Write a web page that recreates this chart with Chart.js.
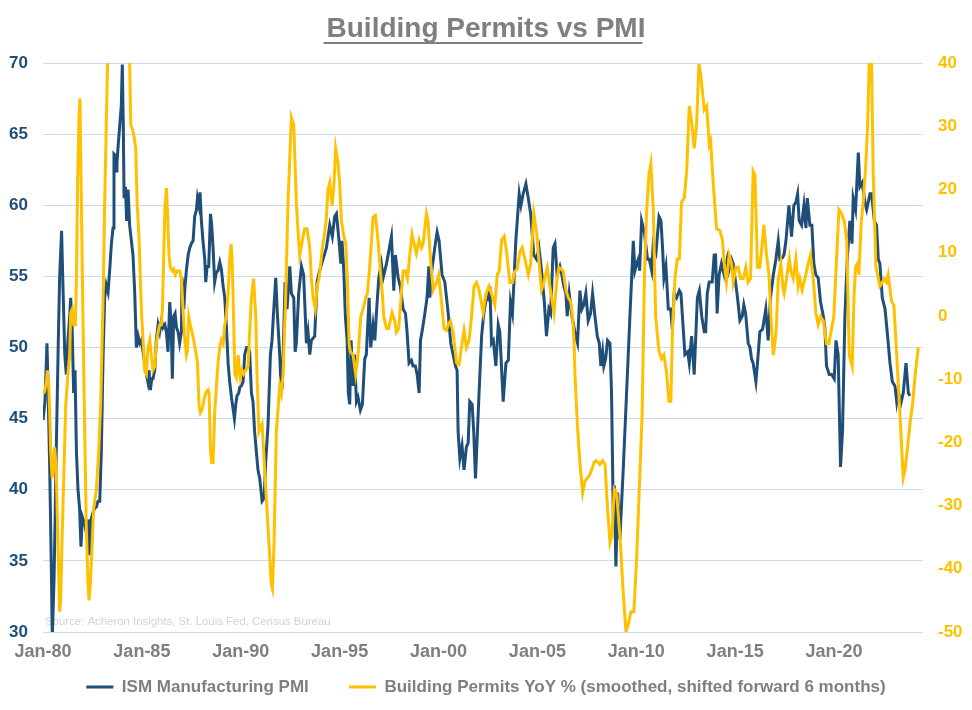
<!DOCTYPE html>
<html>
<head>
<meta charset="utf-8">
<script src="https://cdn.jsdelivr.net/npm/chart.js@4.4.0/dist/chart.umd.min.js"></script>
<style>
  html, body { margin: 0; padding: 0; background: #ffffff; }
  #wrap { width: 972px; height: 710px; position: relative; }
</style>
</head>
<body>
<div id="wrap"><canvas id="lineChart" width="972" height="710"></canvas></div>
<script>
// ISM Manufacturing PMI (decimal year, index value)
const pmiDates = [
  1980.00,1980.10,1980.20,1980.25,1980.34,1980.42,1980.47,1980.56,1980.67,1980.76,1980.84,1980.94,
  1981.01,1981.10,1981.18,1981.26,1981.35,1981.40,1981.47,1981.55,1981.62,1981.69,1981.77,1981.85,1981.92,1981.99,
  1982.11,1982.19,1982.28,1982.36,1982.43,1982.53,1982.61,1982.70,1982.78,1982.87,1982.95,
  1983.04,1983.12,1983.20,1983.29,1983.37,1983.46,1983.54,1983.59,1983.66,1983.71,1983.74,1983.79,1983.88,1983.96,
  1984.01,1984.06,1984.10,1984.17,1984.23,1984.30,1984.38,1984.47,1984.55,1984.64,1984.72,1984.81,1984.89,1984.97,
  1985.06,1985.14,1985.23,1985.30,1985.36,1985.43,1985.50,1985.56,1985.65,1985.73,1985.82,1985.90,1985.99,
  1986.07,1986.16,1986.24,1986.32,1986.41,1986.48,1986.54,1986.61,1986.68,1986.75,1986.83,1986.91,
  1987.00,1987.03,1987.12,1987.18,1987.25,1987.34,1987.42,1987.50,1987.59,1987.67,1987.76,1987.81,1987.88,1987.94,
  1988.01,1988.09,1988.18,1988.23,1988.30,1988.38,1988.47,1988.53,1988.60,1988.68,1988.77,1988.85,1988.94,
  1989.02,1989.11,1989.19,1989.27,1989.36,1989.44,1989.53,1989.61,1989.68,1989.75,1989.81,1989.90,1989.95,
  1990.03,1990.12,1990.20,1990.29,1990.37,1990.45,1990.54,1990.62,1990.70,1990.87,1990.96,
  1991.08,1991.18,1991.26,1991.38,1991.50,1991.58,1991.67,1991.77,1991.85,1991.97,
  1992.05,1992.10,1992.17,1992.24,1992.34,1992.48,1992.56,1992.68,1992.75,1992.81,1992.93,
  1993.07,1993.18,1993.32,1993.40,1993.49,1993.57,1993.74,1993.86,1993.99,
  1994.16,1994.33,1994.50,1994.63,1994.75,1994.84,1994.97,
  1995.06,1995.12,1995.21,1995.29,1995.38,1995.44,1995.51,1995.58,1995.68,1995.75,1995.85,1995.93,
  1996.05,1996.15,1996.27,1996.35,1996.49,1996.57,1996.69,1996.78,1996.86,1996.98,
  1997.11,1997.20,1997.37,1997.62,1997.74,1997.82,1997.96,
  1998.07,1998.21,1998.33,1998.41,1998.51,1998.63,1998.71,1998.83,1998.92,
  1999.02,1999.09,1999.19,1999.31,1999.42,1999.51,1999.56,1999.66,1999.81,1999.93,
  2000.03,2000.18,2000.32,2000.49,2000.62,2000.74,2000.86,2000.94,2000.99,
  2001.08,2001.19,2001.29,2001.41,2001.50,2001.58,2001.70,2001.78,2001.87,2001.97,
  2002.05,2002.18,2002.29,2002.43,2002.51,2002.60,2002.68,2002.77,2002.90,
  2003.02,2003.10,2003.27,2003.41,2003.53,2003.64,2003.74,2003.91,
  2004.08,2004.17,2004.28,2004.42,2004.54,2004.66,2004.82,2004.96,
  2005.08,2005.21,2005.35,2005.46,2005.58,2005.67,2005.80,2005.89,
  2006.00,2006.14,2006.24,2006.34,2006.44,2006.51,2006.61,2006.75,2006.93,
  2007.03,2007.15,2007.25,2007.35,2007.45,2007.57,2007.69,2007.79,2007.91,
  2008.03,2008.13,2008.21,2008.30,2008.36,2008.45,2008.55,2008.67,2008.75,2008.84,2008.89,2008.97,
  2009.06,2009.17,2009.34,2009.51,2009.68,2009.85,2009.93,
  2010.02,2010.10,2010.17,2010.27,2010.41,2010.57,2010.66,2010.78,2010.86,
  2011.00,2011.15,2011.25,2011.33,2011.40,2011.50,2011.62,2011.74,2011.82,2011.92,
  2012.04,2012.18,2012.26,2012.46,2012.60,2012.68,2012.80,2012.93,
  2013.09,2013.19,2013.31,2013.44,2013.51,2013.59,2013.69,2013.76,2013.84,2013.94,
  2014.01,2014.09,2014.19,2014.31,2014.45,2014.60,2014.68,2014.82,2014.90,
  2015.02,2015.12,2015.24,2015.36,2015.44,2015.53,2015.66,2015.75,2015.83,2015.91,
  2016.05,2016.13,2016.25,2016.39,2016.55,2016.67,2016.79,2016.93,
  2017.06,2017.18,2017.26,2017.38,2017.47,2017.57,2017.72,2017.85,2017.97,
  2018.07,2018.16,2018.24,2018.36,2018.48,2018.58,2018.65,2018.78,2018.88,2018.98,
  2019.08,2019.20,2019.32,2019.46,2019.54,2019.62,2019.76,2019.88,
  2020.01,2020.10,2020.21,2020.33,2020.43,2020.55,2020.67,2020.80,2020.91,2020.97,
  2021.09,2021.23,2021.31,2021.43,2021.56,2021.65,2021.82,2021.90,
  2022.04,2022.15,2022.24,2022.32,2022.44,2022.58,2022.71,2022.83,2022.95,
  2023.08,2023.17,2023.25,2023.37,2023.50,2023.64,2023.76,2023.84
];
const pmiValues = [
  44.9,46.2,50.3,47.6,41.4,34.6,29.6,33.8,42.7,49.5,54.9,58.2,
  54.3,49.5,48.1,50.5,52.2,53.5,51.6,46.8,48.4,42.7,40.0,38.7,36.0,38.1,
  37.6,37.0,37.9,35.4,37.9,38.4,38.7,38.8,39.2,39.2,42.7,
  49.5,53.5,54.4,53.9,55.4,57.3,58.4,63.6,63.5,62.4,62.9,64.0,65.6,67.0,
  69.9,65.6,60.5,61.3,58.9,61.1,58.6,57.5,56.5,53.8,50.0,50.8,50.3,50.5,
  49.7,48.9,48.1,47.6,48.4,47.0,47.8,47.8,48.4,50.5,51.6,51.1,51.9,
  51.4,51.6,51.1,49.7,53.2,51.6,47.8,52.2,52.4,51.4,51.1,50.3,
  51.1,54.9,52.7,54.3,55.4,56.5,57.0,57.3,57.5,59.2,59.7,60.5,60.0,60.9,
  58.9,57.5,56.2,54.6,55.7,55.7,59.4,58.6,57.0,54.6,55.3,55.4,56.0,
  55.5,54.3,53.5,51.6,48.9,47.6,46.5,45.7,45.0,46.0,46.6,46.8,47.2,
  47.3,47.6,49.5,50.0,50.0,49.7,46.8,46.2,44.1,41.4,40.8,
  39.2,39.4,41.9,44.6,49.5,50.5,52.7,54.9,52.4,49.5,
  46.8,47.3,50.8,54.6,52.7,55.7,53.8,53.5,49.7,50.3,53.8,
  55.7,55.1,50.3,51.1,49.5,50.5,50.8,54.6,55.4,
  56.2,57.0,58.6,57.8,59.2,59.4,57.5,
  55.9,57.5,55.4,52.2,50.5,46.8,46.0,50.5,47.3,49.5,46.2,46.5,
  45.6,46.0,49.2,49.5,53.5,50.0,51.6,50.5,52.4,54.9,
  55.9,54.9,55.9,57.8,54.0,56.5,54.9,
  54.3,52.7,52.4,51.1,48.9,49.1,48.7,48.7,48.1,
  46.8,50.5,51.3,52.4,53.5,55.7,53.5,55.4,57.0,58.1,
  57.5,55.1,54.6,52.4,50.3,49.5,48.7,48.4,44.1,
  42.2,43.1,41.4,43.0,43.3,46.2,46.0,44.1,40.8,44.1,
  46.8,50.8,52.4,53.5,53.4,54.3,50.3,50.5,48.7,
  51.6,51.1,46.2,48.9,49.1,53.2,52.4,57.5,
  60.8,60.0,60.8,61.5,60.5,59.4,56.5,56.2,
  57.0,55.4,53.2,50.8,52.7,52.4,57.0,57.3,
  55.1,55.7,55.1,54.3,53.8,52.2,53.8,52.2,50.8,
  50.3,54.0,52.7,53.0,53.8,51.9,52.4,53.8,52.2,
  50.8,50.3,48.7,49.7,48.7,49.2,50.5,50.3,46.8,38.1,40.3,34.6,
  39.8,36.5,41.4,46.8,52.2,57.5,55.4,
  55.9,56.2,55.4,58.9,58.1,56.2,56.2,55.4,57.3,
  56.7,59.2,58.9,57.0,54.9,55.7,52.7,52.7,51.3,53.8,
  53.5,54.0,53.8,49.5,49.7,48.9,50.8,48.1,
  53.5,54.0,52.2,51.1,51.1,53.8,54.6,54.6,54.6,56.5,
  56.5,52.4,55.1,55.9,55.1,56.2,55.4,56.2,55.9,
  54.6,53.5,51.9,52.2,53.0,52.4,50.3,50.0,49.2,48.9,
  47.6,48.9,51.1,51.3,52.7,50.5,53.5,55.1,
  56.2,57.5,56.2,56.3,56.5,57.5,60.0,57.8,60.0,
  60.2,60.8,58.9,58.6,60.0,58.4,60.5,58.6,58.6,55.9,
  55.1,54.9,53.2,52.2,51.3,48.7,48.1,48.1,
  47.8,50.5,49.5,41.6,44.1,52.2,56.2,58.9,57.3,60.5,
  59.7,63.7,61.3,61.6,60.2,59.7,60.8,60.8,
  58.9,58.6,56.2,55.9,53.5,52.7,50.8,48.9,47.6,
  47.3,46.2,47.0,46.0,46.8,48.9,46.8,46.6
];

// Building Permits YoY % (smoothed, shifted forward 6 months)
const permitDates = [
  1980.00,1980.08,1980.17,1980.22,1980.29,1980.34,1980.39,1980.46,1980.51,1980.59,1980.67,1980.76,1980.84,1980.89,1980.98,
  1981.06,1981.15,1981.26,1981.35,1981.40,1981.48,1981.55,1981.64,1981.69,1981.75,1981.82,1981.87,1981.94,
  1982.02,1982.11,1982.19,1982.28,1982.33,1982.39,1982.48,1982.56,1982.70,1982.82,1982.92,
  1983.04,1983.12,1983.20,1983.24,1983.32,1983.50,1983.75,1984.00,1984.25,
  1984.38,1984.44,1984.52,1984.60,1984.69,1984.76,1984.86,1984.92,1984.99,
  1985.06,1985.14,1985.23,1985.31,1985.40,1985.48,1985.56,1985.65,1985.73,1985.82,1985.90,1985.99,
  1986.04,1986.10,1986.16,1986.24,1986.29,1986.37,1986.44,1986.54,1986.61,1986.69,1986.78,1986.91,
  1987.00,1987.08,1987.17,1987.25,1987.30,1987.37,1987.45,1987.54,1987.62,1987.72,1987.81,1987.89,1987.96,
  1988.06,1988.16,1988.26,1988.35,1988.40,1988.47,1988.53,1988.60,1988.68,1988.77,1988.85,1988.94,
  1989.02,1989.11,1989.19,1989.27,1989.36,1989.44,1989.51,1989.56,1989.61,1989.70,1989.78,1989.87,1989.92,1989.98,
  1990.07,1990.15,1990.25,1990.37,1990.49,1990.54,1990.65,1990.76,1990.82,1990.92,1990.99,
  1991.08,1991.21,1991.38,1991.55,1991.60,1991.68,1991.80,1991.97,
  1992.05,1992.14,1992.27,1992.39,1992.56,1992.68,1992.81,1992.90,1992.98,
  1993.12,1993.23,1993.35,1993.49,1993.57,1993.66,1993.77,1993.86,1993.96,
  1994.13,1994.25,1994.33,1994.41,1994.50,1994.62,1994.72,1994.80,1994.92,
  1995.00,1995.09,1995.21,1995.31,1995.39,1995.48,1995.54,1995.68,1995.81,1995.93,
  1996.07,1996.19,1996.32,1996.40,1996.52,1996.69,1996.81,1996.94,
  1997.06,1997.16,1997.23,1997.37,1997.48,1997.65,1997.79,1997.87,1997.99,
  1998.12,1998.21,1998.33,1998.43,1998.55,1998.66,1998.77,1998.88,
  1999.02,1999.14,1999.22,1999.39,1999.47,1999.61,1999.73,1999.90,
  2000.01,2000.15,2000.28,2000.40,2000.49,2000.60,2000.74,2000.91,
  2001.04,2001.16,2001.29,2001.41,2001.55,2001.67,2001.80,2001.92,
  2002.05,2002.26,2002.40,2002.55,2002.68,2002.85,2002.97,
  2003.07,2003.19,2003.32,2003.44,2003.61,2003.74,2003.86,2003.98,
  2004.12,2004.23,2004.37,2004.54,2004.66,2004.82,2004.96,
  2005.09,2005.21,2005.33,2005.50,2005.63,2005.84,2005.97,
  2006.09,2006.31,2006.44,2006.56,2006.68,2006.78,2006.85,2006.90,
  2007.02,2007.15,2007.29,2007.40,2007.54,2007.66,2007.74,2007.86,2007.96,
  2008.08,2008.16,2008.30,2008.42,2008.55,2008.67,2008.77,2008.89,
  2009.01,2009.21,2009.34,2009.48,2009.60,2009.73,2009.88,
  2010.02,2010.19,2010.30,2010.41,2010.52,2010.64,2010.74,2010.86,2010.98,
  2011.15,2011.28,2011.40,2011.54,2011.65,2011.75,2011.84,2011.96,
  2012.07,2012.18,2012.29,2012.43,2012.55,2012.68,2012.82,2012.93,
  2013.05,2013.17,2013.26,2013.44,2013.56,2013.69,2013.76,2013.89,
  2014.06,2014.23,2014.36,2014.45,2014.56,2014.70,2014.82,2014.90,
  2015.04,2015.16,2015.27,2015.41,2015.54,2015.66,2015.78,2015.91,
  2016.00,2016.13,2016.25,2016.39,2016.45,2016.59,2016.71,2016.81,2016.93,
  2017.03,2017.09,2017.18,2017.26,2017.31,2017.43,2017.48,2017.60,2017.74,2017.82,2017.94,
  2018.07,2018.19,2018.27,2018.39,2018.53,2018.70,2018.81,2018.95,
  2019.08,2019.20,2019.32,2019.46,2019.62,2019.74,2019.88,2019.99,
  2020.08,2020.25,2020.38,2020.52,2020.64,2020.77,2020.92,
  2021.01,2021.09,2021.19,2021.26,2021.38,2021.48,2021.61,2021.70,2021.78,2021.83,2021.90,2021.98,
  2022.12,2022.20,2022.32,2022.44,2022.54,2022.66,2022.74,2022.91,
  2023.03,2023.17,2023.33,2023.50,2023.59,2023.70,2023.84,2023.97,
  2024.09,2024.26
];
const permitValues = [
  -12.3,-12.0,-10.5,-8.6,-11.1,-15.3,-21.4,-25.6,-24.4,-20.8,-24.4,-36.5,-46.8,-45.0,-33.5,
  -24.4,-14.1,-9.2,-6.2,0.5,1.1,-1.4,-1.4,5.9,21.1,31.4,34.4,18.0,
  -0.1,-18.3,-33.5,-42.6,-45.0,-42.6,-36.5,-30.5,-27.4,-21.4,-13.5,
  2.9,18.0,30.2,36.2,48.0,60.0,62.0,58.0,50.0,
  40.0,30.2,29.6,28.4,26.5,18.0,12.0,5.9,-0.1,
  -3.8,-8.6,-9.2,-5.0,-3.8,-6.2,-8.6,-8.0,-4.4,-2.6,-1.4,-1.4,
  1.1,9.0,16.8,20.2,16.8,9.6,7.7,7.1,7.4,6.5,7.1,7.1,
  5.9,1.1,-3.8,-6.2,-5.6,-0.1,-1.4,-2.6,-3.8,-5.6,-7.4,-14.1,-15.3,
  -14.7,-12.9,-12.0,-11.7,-12.3,-21.4,-23.2,-23.2,-15.3,-11.1,-7.4,-5.0,
  -3.8,-4.4,-1.4,-0.1,3.5,9.0,11.4,9.0,3.5,-9.2,-9.8,-6.2,-8.0,-9.8,
  -8.6,-9.2,-8.6,-8.0,-0.1,2.9,5.9,-0.1,-9.2,-18.3,-17.7,
  -17.1,-24.4,-33.5,-42.6,-43.2,-36.5,-18.3,-11.1,
  -12.3,-9.2,2.9,18.0,31.4,30.2,18.0,13.2,9.6,
  12.0,13.8,13.8,10.8,5.9,2.9,1.1,4.7,5.9,
  10.8,13.2,15.6,19.9,21.1,17.4,21.1,26.5,24.1,
  21.1,15.0,12.6,11.4,5.9,-4.4,-5.6,-6.2,-9.2,-6.2,
  -0.1,1.1,2.9,3.5,7.7,15.6,15.9,12.0,
  7.1,3.5,-0.1,-2.0,-2.0,0.5,-0.8,-2.6,-2.0,
  3.5,7.1,7.1,5.9,9.6,12.9,11.4,9.9,
  12.0,10.8,11.4,16.2,15.0,8.3,4.1,5.3,
  6.5,2.3,-2.0,-2.3,-1.4,-0.8,-2.6,-7.4,
  -7.7,-5.0,-2.3,-5.0,-3.8,-0.1,4.7,5.3,
  4.1,0.5,3.5,4.7,3.5,1.7,6.5,
  7.1,12.0,12.6,10.2,5.3,5.3,7.1,7.4,
  10.2,10.8,9.0,6.5,8.3,16.2,13.2,
  8.3,4.1,5.3,7.7,4.7,0.5,5.3,
  7.7,7.1,4.1,2.9,2.3,-0.1,-3.8,-9.2,
  -17.1,-23.2,-28.0,-26.2,-25.6,-25.0,-24.4,-23.2,-22.9,
  -23.2,-23.5,-22.9,-23.5,-30.5,-35.9,-34.7,-27.4,
  -28.0,-36.5,-43.8,-50.0,-48.7,-46.8,-46.8,
  -38.3,-24.4,-15.3,5.9,16.2,22.3,24.1,16.8,-0.1,
  -5.6,-6.8,-6.2,-9.2,-13.5,-13.5,-1.4,5.9,
  9.0,9.0,18.0,18.7,22.9,33.2,30.2,26.5,
  30.2,39.9,38.1,32.6,33.2,27.1,27.7,21.1,
  13.8,13.5,12.0,8.3,5.3,9.6,8.3,5.3,
  7.7,7.7,5.9,5.9,7.7,5.3,5.9,22.9,
  22.3,7.7,7.7,12.0,14.4,9.6,6.5,-0.1,-6.2,
  -3.8,-1.4,5.9,7.1,8.3,4.1,3.5,5.9,9.0,7.1,5.9,
  9.0,4.7,5.9,4.1,5.9,8.3,9.6,5.9,
  0.5,-1.4,-0.1,-0.8,-4.4,-4.4,-2.0,-0.1,
  5.9,16.8,16.2,15.0,12.0,-6.2,-8.0,
  2.9,7.7,8.3,6.5,15.0,18.0,24.1,30.2,39.9,46.0,39.9,22.9,
  7.7,6.5,4.7,5.3,5.9,5.3,6.5,2.3,
  1.7,-6.2,-15.3,-25.6,-24.4,-21.4,-17.1,-14.1,
  -9.8,-5.0
];

const tickYears = [1980, 1985, 1990, 1995, 2000, 2005, 2010, 2015, 2020];

const NAVY = "#1F4E79";
const GOLD = "#FFC000";
const GREY = "#7F7F7F";
const SANS = "'Liberation Sans', Arial, sans-serif";

// underline under the title + source note inside the plot
const extras = {
    id: "extras",
    beforeDatasetsDraw(chart) {
        const ctx = chart.ctx;
        const a = chart.chartArea;
        ctx.save();
        ctx.font = "11.4px " + SANS;
        ctx.fillStyle = "#D3D3D3";
        ctx.textBaseline = "alphabetic";
        ctx.fillText("Source: Acheron Insights, St. Louis Fed, Census Bureau", a.left + 2, a.bottom - 7);
        ctx.restore();
    },
    afterDraw(chart) {
        const ctx = chart.ctx;
        const t = chart.options.plugins.title;
        ctx.save();
        ctx.font = "bold " + t.font.size + "px " + SANS;
        const w = ctx.measureText(t.text).width;
        const cx = (chart.chartArea.left + chart.chartArea.right) / 2;
        ctx.strokeStyle = GREY;
        ctx.lineWidth = 2;
        ctx.beginPath();
        ctx.moveTo(cx - w / 2, 43);
        ctx.lineTo(cx + w / 2, 43);
        ctx.stroke();
        ctx.restore();
    }
};

new Chart(document.getElementById("lineChart"), {
    type: "line",
    data: {
        datasets: [{
            label: "Building Permits YoY % (smoothed, shifted forward 6 months)",
            data: permitDates.map((d, i) => ({ x: d, y: permitValues[i] })),
            borderColor: GOLD,
            backgroundColor: GOLD,
            borderWidth: 3,
            pointRadius: 0,
            yAxisID: "y1",
            order: 1
        }, {
            label: "ISM Manufacturing PMI",
            data: pmiDates.map((d, i) => ({ x: d, y: pmiValues[i] })),
            borderColor: NAVY,
            backgroundColor: NAVY,
            borderWidth: 3,
            pointRadius: 0,
            yAxisID: "y",
            order: 2
        }]
    },
    options: {
        responsive: false,
        animation: false,
        layout: { padding: { top: 0, right: 0, bottom: 4.5, left: 0 } },
        plugins: {
            title: {
                display: true,
                text: "Building Permits vs PMI",
                color: GREY,
                font: { family: SANS, size: 28, weight: "bold" },
                padding: { top: 12, bottom: 17.4 }
            },
            legend: {
                position: "bottom",
                reverse: true,
                labels: {
                    boxWidth: 27,
                    boxHeight: 3,
                    padding: 16.5,
                    color: GREY,
                    font: { family: SANS, size: 17, weight: "bold" },
                    // wider gap after the PMI entry, as in the original legend
                    generateLabels: (chart) =>
                        Chart.defaults.plugins.legend.labels.generateLabels(chart)
                            .map(l => Object.assign(l, {
                                lineWidth: 0,
                                text: l.datasetIndex === 1 ? l.text + "\u00A0\u00A0\u00A0\u00A0\u00A0" : l.text
                            }))
                }
            },
            tooltip: { enabled: false }
        },
        scales: {
            x: {
                type: "linear",
                min: 1980,
                max: 2024.5,
                grid: { display: false },
                border: { display: false },
                afterBuildTicks: (scale) => { scale.ticks = tickYears.map(v => ({ value: v })); },
                afterFit: (scale) => { scale.height = 30; },
                ticks: {
                    autoSkip: false,
                    maxRotation: 0,
                    padding: 1,
                    color: GREY,
                    font: { family: SANS, size: 18, weight: "bold" },
                    callback: (v) => "Jan-" + String(v % 100).padStart(2, "0")
                }
            },
            y: {
                position: "left",
                min: 30,
                max: 70,
                afterFit: (scale) => { scale.width = 43; },
                grid: { color: "#C9DCEF", lineWidth: 1, drawTicks: false },
                border: { display: false },
                ticks: {
                    stepSize: 5,
                    padding: 15,
                    color: NAVY,
                    font: { family: SANS, size: 17, weight: "bold" }
                }
            },
            y1: {
                position: "right",
                min: -50,
                max: 40,
                afterFit: (scale) => { scale.width = 49; },
                grid: { drawOnChartArea: false, drawTicks: false },
                border: { display: false },
                ticks: {
                    stepSize: 10,
                    padding: 15,
                    color: GOLD,
                    font: { family: SANS, size: 17, weight: "bold" }
                }
            }
        }
    },
    plugins: [extras]
});
</script>
</body>
</html>
